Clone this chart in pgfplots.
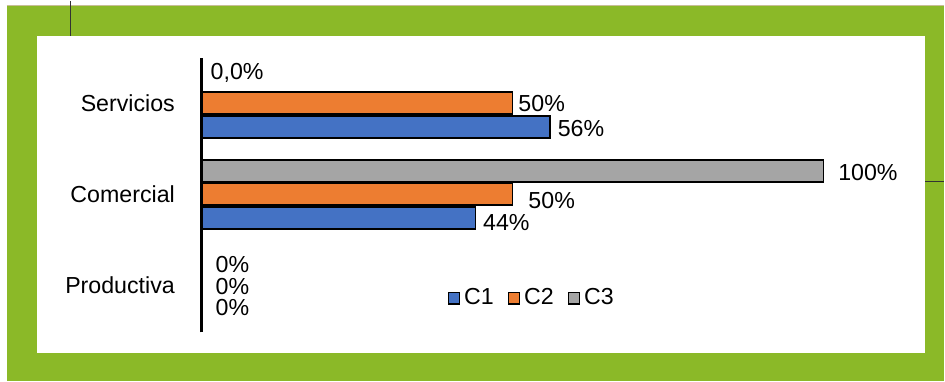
\documentclass[border=0pt]{standalone}
\usepackage{pgfplots}
\pgfplotsset{compat=1.18}
\usepackage{fontspec}
\setmainfont{Liberation Sans}
\definecolor{cA}{RGB}{68,114,196}
\definecolor{cB}{RGB}{237,125,49}
\definecolor{cC}{RGB}{165,165,165}
\definecolor{grn}{RGB}{139,185,40}
\definecolor{tan}{RGB}{200,190,150}
\begin{document}
\begin{tikzpicture}[x=1pt,y=1pt]
% background frame (px -> pt: 0.5*X, 0.5*(381-Y))
\fill[white] (0,0) rectangle (472.5,190.5);
\fill[grn] (3.5,0) rectangle (472.5,188);
\draw[tan, line width=0.6pt] (3.5,188.2) -- (472.5,188.2);
\fill[white] (18.5,14) rectangle (463,173);
\draw[black!80, line width=0.6pt] (35.4,173) -- (35.4,190.5);
\draw[black!80, line width=0.6pt] (463,100) -- (472.5,100);
\begin{axis}[
  at={(101pt,24.5pt)}, anchor=south west,
  scale only axis, width=311pt, height=137.5pt,
  xbar, bar width=0.24,
  xmin=0, xmax=100, ymin=-0.52, ymax=2.5,
  enlargelimits=false, clip=false,
  axis x line=none, axis y line=left,
  axis line style={-, line width=1.5pt, black},
  ytick={0,1,2}, yticklabels={Productiva,Comercial,Servicios},
  major tick length=0pt, ytick style={draw=none},
  yticklabel style={font=\fontsize{11.6}{13}\selectfont, xshift=-10pt},
  nodes near coords={\pgfplotspointmeta},
  point meta=explicit symbolic,
  visualization depends on={value \thisrow{dy} \as \dy},
  visualization depends on={value \thisrow{dx} \as \dx},
  every node near coord/.append style={font=\fontsize{11.6}{13}\selectfont, anchor=west, inner sep=0pt, xshift=\dx pt, yshift=\dy pt},
  legend columns=3,
  legend style={at={(0.395,0.124)}, anchor=west, draw=none, fill=none,
    font=\fontsize{11.6}{13}\selectfont, inner sep=0pt,
    /tikz/every even column/.append style={column sep=5pt}},
  legend image code/.code={\draw[#1, line width=0.6pt] (0pt,-2.8pt) rectangle (5.6pt,2.8pt);},
]
\addplot[fill=cA, draw=black, line width=0.8pt, bar shift=-0.265]
  table[x=x, y=y, meta=lab] {
x y lab dx dy
0 0 0\% 6.5 1
44 1 44\% 3.5 -2
56 2 56\% 3.5 -0.5
};
\addplot[fill=cB, draw=black, line width=0.8pt, bar shift=0]
  table[x=x, y=y, meta=lab] {
x y lab dx dy
0 0 0\% 6.5 -0.5
50 1 50\% 7.5 -3
50 2 50\% 2.5 0
};
\addplot[fill=cC, draw=black, line width=0.8pt, bar shift=0.255]
  table[x=x, y=y, meta=lab] {
x y lab dx dy
0 0 0\% 6.5 -1.5
100 1 100\% 7 -1
0 2 0,0\% 4 3.5
};
\legend{C1,C2,C3}
\end{axis}
\end{tikzpicture}
\end{document}
